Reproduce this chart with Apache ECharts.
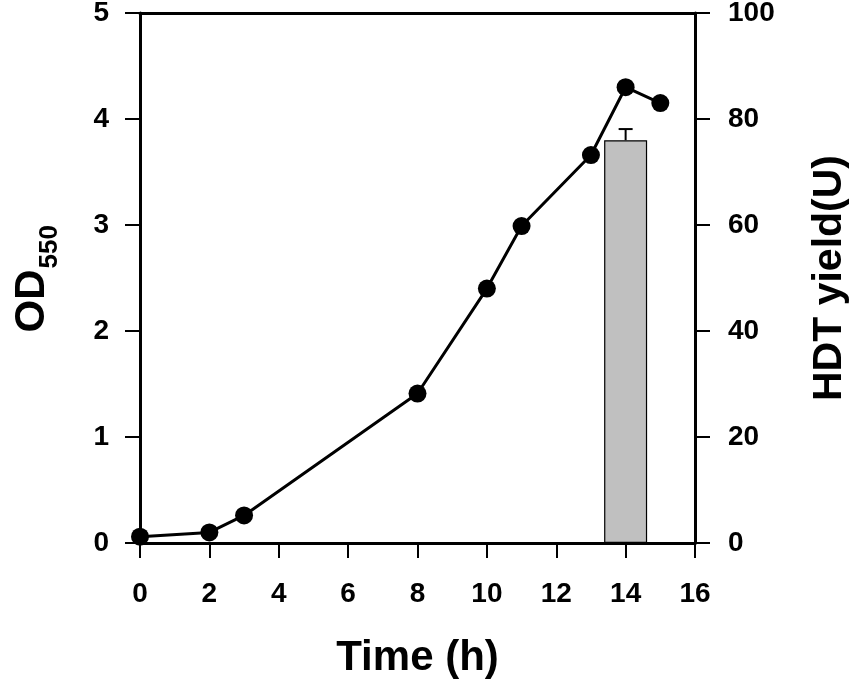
<!DOCTYPE html>
<html>
<head>
<meta charset="utf-8">
<script src="https://cdn.jsdelivr.net/npm/echarts@6/dist/echarts.min.js"></script>
<style>
  html, body { margin: 0; padding: 0; background: #fff; }
  #chart { width: 851px; height: 681px; }
</style>
</head>
<body>
<div id="chart"></div>
<script>
// growth curve (OD550) and enzyme yield
var timeH = [0, 2, 3, 8, 10, 11, 13, 14, 15];
var od550 = [0.06, 0.10, 0.26, 1.41, 2.40, 2.99, 3.66, 4.30, 4.15];

var yieldTime = [14];
var yieldU = [76];
var yieldErr = [2.1];

var xTicks = [0, 2, 4, 6, 8, 10, 12, 14, 16];

var FONT = '"Liberation Sans", Arial, sans-serif';
var BLACK = '#000';

var chart = echarts.init(document.getElementById('chart'));

var odData = timeH.map(function(t, i) { return [t, od550[i]]; });
var barData = yieldTime.map(function(t, i) { return [t, yieldU[i]]; });
var errData = yieldTime.map(function(t, i) { return [t, yieldU[i], yieldU[i] + yieldErr[i]]; });

function tickLabel(size) {
  return {
    color: BLACK,
    fontFamily: FONT,
    fontWeight: 'bold',
    fontSize: size
  };
}

var axisLine = { show: true, onZero: false, lineStyle: { color: BLACK, width: 3 } };
var axisTick = { show: true, length: 15, lineStyle: { color: BLACK, width: 2 } };

var option = {
  backgroundColor: '#fff',
  animation: false,
  grid: { left: 140, right: 156, top: 13, bottom: 138, outerBoundsMode: 'none', containLabel: false },
  xAxis: [{
    type: 'value',
    min: xTicks[0],
    max: xTicks[xTicks.length - 1],
    interval: 2,
    axisLine: axisLine,
    axisTick: axisTick,
    axisLabel: Object.assign(tickLabel(28), { margin: 37 }),
    splitLine: { show: false },
    name: 'Time (h)',
    nameLocation: 'middle',
    nameGap: 94,
    nameTextStyle: { color: BLACK, fontFamily: FONT, fontWeight: 'bold', fontSize: 42 }
  }, {
    // top frame line
    type: 'value',
    position: 'top',
    min: 0,
    max: 16,
    axisLine: axisLine,
    axisTick: { show: false },
    axisLabel: { show: false },
    splitLine: { show: false }
  }],
  yAxis: [{
    type: 'value',
    min: 0,
    max: 5,
    interval: 1,
    axisLine: axisLine,
    axisTick: axisTick,
    axisLabel: Object.assign(tickLabel(28), { margin: 31 }),
    splitLine: { show: false }
  }, {
    type: 'value',
    position: 'right',
    min: 0,
    max: 100,
    interval: 20,
    axisLine: axisLine,
    axisTick: axisTick,
    axisLabel: Object.assign(tickLabel(28), { margin: 33 }),
    splitLine: { show: false },
    name: 'HDT yield(U)',
    nameLocation: 'middle',
    nameRotate: 90,
    nameGap: 114,
    nameTextStyle: { color: BLACK, fontFamily: FONT, fontWeight: 'bold', fontSize: 41 }
  }],
  graphic: [{
    type: 'group',
    left: 11,
    top: 225,
    rotation: Math.PI / 2,
    children: [{
      type: 'text',
      x: 0,
      y: 0,
      style: {
        text: 'OD',
        fill: BLACK,
        font: 'bold 42px ' + FONT,
        textAlign: 'left',
        textVerticalAlign: 'top'
      }
    }, {
      type: 'text',
      x: 64,
      y: 26,
      style: {
        text: '550',
        fill: BLACK,
        font: 'bold 26px ' + FONT,
        textAlign: 'left',
        textVerticalAlign: 'top'
      }
    }]
  }],
  series: [{
    name: 'HDT yield',
    type: 'bar',
    xAxisIndex: 0,
    yAxisIndex: 1,
    barWidth: 43,
    data: barData,
    itemStyle: { color: '#c0c0c0', borderColor: BLACK, borderWidth: 1.2 },
    z: 1
  }, {
    name: 'error',
    type: 'custom',
    xAxisIndex: 0,
    yAxisIndex: 1,
    data: errData,
    z: 2,
    renderItem: function(params, api) {
      var low = api.coord([api.value(0), api.value(1)]);
      var high = api.coord([api.value(0), api.value(2)]);
      var half = 7;
      var st = { stroke: BLACK, lineWidth: 2 };
      return {
        type: 'group',
        children: [{
          type: 'line',
          shape: { x1: low[0], y1: low[1], x2: high[0], y2: high[1] },
          style: st
        }, {
          type: 'line',
          shape: { x1: high[0] - half, y1: high[1], x2: high[0] + half, y2: high[1] },
          style: st
        }]
      };
    }
  }, {
    name: 'OD550',
    type: 'line',
    xAxisIndex: 0,
    yAxisIndex: 0,
    data: odData,
    symbol: 'circle',
    symbolSize: 18,
    lineStyle: { color: BLACK, width: 3 },
    itemStyle: { color: BLACK },
    z: 3
  }]
};

chart.setOption(option);
</script>
</body>
</html>
